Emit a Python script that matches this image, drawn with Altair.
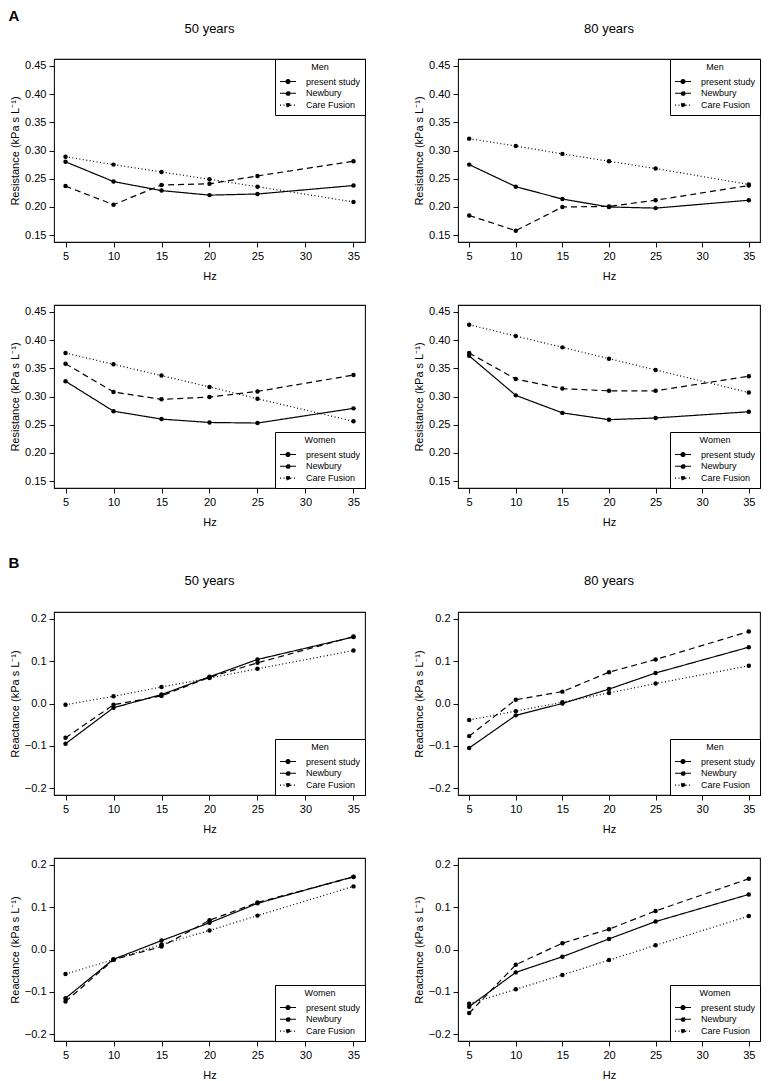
import altair as alt
import pandas as pd

# ---------------- data ----------------
HZ = [5, 10, 15, 20, 25, 35]
SERIES = ["present study", "Newbury", "Care Fusion"]
X_TICKS = [5, 10, 15, 20, 25, 30, 35]
RES_TICKS = [0.15, 0.20, 0.25, 0.30, 0.35, 0.40, 0.45]
REA_TICKS = [-0.2, -0.1, 0.0, 0.1, 0.2]

# Resistance, men
RES_MEN_50_PRESENT = [0.280, 0.245, 0.229, 0.221, 0.223, 0.238]
RES_MEN_50_NEWBURY = [0.237, 0.204, 0.239, 0.241, 0.255, 0.281]
RES_MEN_50_CARE = [0.289, 0.275, 0.262, 0.249, 0.236, 0.209]
RES_MEN_80_PRESENT = [0.275, 0.236, 0.214, 0.200, 0.198, 0.212]
RES_MEN_80_NEWBURY = [0.185, 0.158, 0.200, 0.201, 0.212, 0.238]
RES_MEN_80_CARE = [0.321, 0.308, 0.294, 0.281, 0.268, 0.240]
# Resistance, women
RES_WOMEN_50_PRESENT = [0.327, 0.274, 0.260, 0.254, 0.253, 0.279]
RES_WOMEN_50_NEWBURY = [0.358, 0.308, 0.295, 0.299, 0.309, 0.338]
RES_WOMEN_50_CARE = [0.377, 0.357, 0.337, 0.317, 0.296, 0.256]
RES_WOMEN_80_PRESENT = [0.372, 0.302, 0.271, 0.259, 0.262, 0.273]
RES_WOMEN_80_NEWBURY = [0.377, 0.331, 0.314, 0.310, 0.310, 0.336]
RES_WOMEN_80_CARE = [0.427, 0.407, 0.387, 0.367, 0.347, 0.307]
# Reactance, men
REA_MEN_50_PRESENT = [-0.095, -0.010, 0.021, 0.063, 0.104, 0.157]
REA_MEN_50_NEWBURY = [-0.081, -0.003, 0.018, 0.062, 0.096, 0.158]
REA_MEN_50_CARE = [-0.003, 0.017, 0.039, 0.060, 0.082, 0.125]
REA_MEN_80_PRESENT = [-0.105, -0.028, 0.000, 0.034, 0.072, 0.133]
REA_MEN_80_NEWBURY = [-0.077, 0.009, 0.028, 0.074, 0.104, 0.170]
REA_MEN_80_CARE = [-0.039, -0.018, 0.003, 0.025, 0.047, 0.089]
# Reactance, women
REA_WOMEN_50_PRESENT = [-0.115, -0.023, 0.021, 0.063, 0.109, 0.172]
REA_WOMEN_50_NEWBURY = [-0.123, -0.024, 0.007, 0.069, 0.111, 0.171]
REA_WOMEN_50_CARE = [-0.058, -0.024, 0.012, 0.045, 0.080, 0.149]
REA_WOMEN_80_PRESENT = [-0.135, -0.054, -0.017, 0.025, 0.066, 0.130]
REA_WOMEN_80_NEWBURY = [-0.150, -0.036, 0.015, 0.048, 0.091, 0.167]
REA_WOMEN_80_CARE = [-0.128, -0.094, -0.060, -0.025, 0.010, 0.079]

FONT = "Liberation Sans"
RES_LABEL = "Resistance (kPa s L\u207b\u00b9)"
REA_LABEL = "Reactance (kPa s L\u207b\u00b9)"
# legend symbol: a short line with a dot in its middle
LEG_SYMBOL = "M-1,0H3M1.5,0A0.5,0.5,0,1,1,0.5,0A0.5,0.5,0,1,1,1.5,0Z"


def panel(series_values, sex, ylabel, ydomain, yticks, yfmt, width,
          orient="bottom-right", title=None, title_offset=24):
    rows = []
    for name, vals in zip(SERIES, series_values):
        for h, v in zip(HZ, vals):
            rows.append({"Hz": h, "value": v, "series": name})
    df = pd.DataFrame(rows)
    x = alt.X("Hz:Q", scale=alt.Scale(domain=[3.8, 36.2], nice=False, zero=False),
              axis=alt.Axis(values=X_TICKS, title="Hz", format="d"))
    y = alt.Y("value:Q", scale=alt.Scale(domain=ydomain, nice=False, zero=False),
              axis=alt.Axis(values=yticks, format=yfmt, title=ylabel,
                            minExtent=30, maxExtent=30))
    dash = alt.StrokeDash(
        "series:N",
        scale=alt.Scale(domain=SERIES, range=[[1, 0], [6, 4], [1, 2.5]]),
        legend=alt.Legend(
            title=sex, orient=orient, offset=0, padding=4,
            strokeColor="black", fillColor="white", cornerRadius=0,
            titleFontSize=9, titleFontWeight="normal", titleAnchor="middle",
            titlePadding=4.5, titleFont=FONT, titleColor="black",
            labelFontSize=9, labelFont=FONT, labelColor="black", labelOffset=17,
            rowPadding=1.8, symbolType=LEG_SYMBOL, symbolSize=64,
            symbolStrokeWidth=1.1, symbolFillColor="black",
            symbolStrokeColor="black"),
    )
    lines = alt.Chart(df).mark_line(color="black", strokeWidth=1.2).encode(
        x=x, y=y, strokeDash=dash, detail="series:N")
    pts = alt.Chart(df).mark_circle(color="black", size=20, opacity=1).encode(x=x, y=y)
    ch = alt.layer(lines, pts).properties(width=width, height=183)
    if title:
        ch = ch.properties(title=alt.TitleParams(title, fontSize=13, fontWeight="normal",
                                                 anchor="middle", offset=title_offset,
                                                 font=FONT))
    return ch


RES_DOM = [0.138, 0.462]
REA_DOM = [-0.216, 0.216]
WL, WR = 311, 302


def hrow(a, b):
    return alt.hconcat(a, b, spacing=93, bounds="flush").resolve_scale(
        strokeDash="independent").resolve_legend(strokeDash="independent")


rowA1 = hrow(
    panel([RES_MEN_50_PRESENT, RES_MEN_50_NEWBURY, RES_MEN_50_CARE], "Men", RES_LABEL,
          RES_DOM, RES_TICKS, ".2f", WL, orient="top-right", title="50 years",
          title_offset=23),
    panel([RES_MEN_80_PRESENT, RES_MEN_80_NEWBURY, RES_MEN_80_CARE], "Men", RES_LABEL,
          RES_DOM, RES_TICKS, ".2f", WR, orient="top-right", title="80 years",
          title_offset=23))
rowA2 = hrow(
    panel([RES_WOMEN_50_PRESENT, RES_WOMEN_50_NEWBURY, RES_WOMEN_50_CARE], "Women", RES_LABEL,
          RES_DOM, RES_TICKS, ".2f", WL),
    panel([RES_WOMEN_80_PRESENT, RES_WOMEN_80_NEWBURY, RES_WOMEN_80_CARE], "Women", RES_LABEL,
          RES_DOM, RES_TICKS, ".2f", WR))
rowB1 = hrow(
    panel([REA_MEN_50_PRESENT, REA_MEN_50_NEWBURY, REA_MEN_50_CARE], "Men", REA_LABEL,
          REA_DOM, REA_TICKS, ".1f", WL, title="50 years", title_offset=24),
    panel([REA_MEN_80_PRESENT, REA_MEN_80_NEWBURY, REA_MEN_80_CARE], "Men", REA_LABEL,
          REA_DOM, REA_TICKS, ".1f", WR, title="80 years", title_offset=24))
rowB2 = hrow(
    panel([REA_WOMEN_50_PRESENT, REA_WOMEN_50_NEWBURY, REA_WOMEN_50_CARE], "Women", REA_LABEL,
          REA_DOM, REA_TICKS, ".1f", WL),
    panel([REA_WOMEN_80_PRESENT, REA_WOMEN_80_NEWBURY, REA_WOMEN_80_CARE], "Women", REA_LABEL,
          REA_DOM, REA_TICKS, ".1f", WR))


def section(r1, r2, label, offset):
    return alt.vconcat(r1, r2, spacing=22,
                       title=alt.TitleParams(label, anchor="start", fontSize=15,
                                             fontWeight="bold", offset=offset, font=FONT)
                       ).resolve_scale(strokeDash="independent").resolve_legend(
        strokeDash="independent")


chart = alt.vconcat(section(rowA1, rowA2, "A", -2), section(rowB1, rowB2, "B", 3),
                    spacing=28).resolve_scale(
    strokeDash="independent").resolve_legend(strokeDash="independent")

chart = chart.properties(padding=0, background="white").configure(
    font=FONT
).configure_view(stroke="#111", strokeWidth=1.1).configure_axis(
    domain=False, grid=False, tickColor="#111", tickSize=5, tickWidth=1,
    labelFontSize=11, titleFontSize=11, titleFontWeight="normal",
    labelColor="black", titleColor="black", labelFont=FONT, titleFont=FONT,
    labelPadding=3
).configure_axisY(titlePadding=4).configure_axisX(titlePadding=9)

chart.save("out.html", embed_options={"renderer": "svg", "actions": False})
